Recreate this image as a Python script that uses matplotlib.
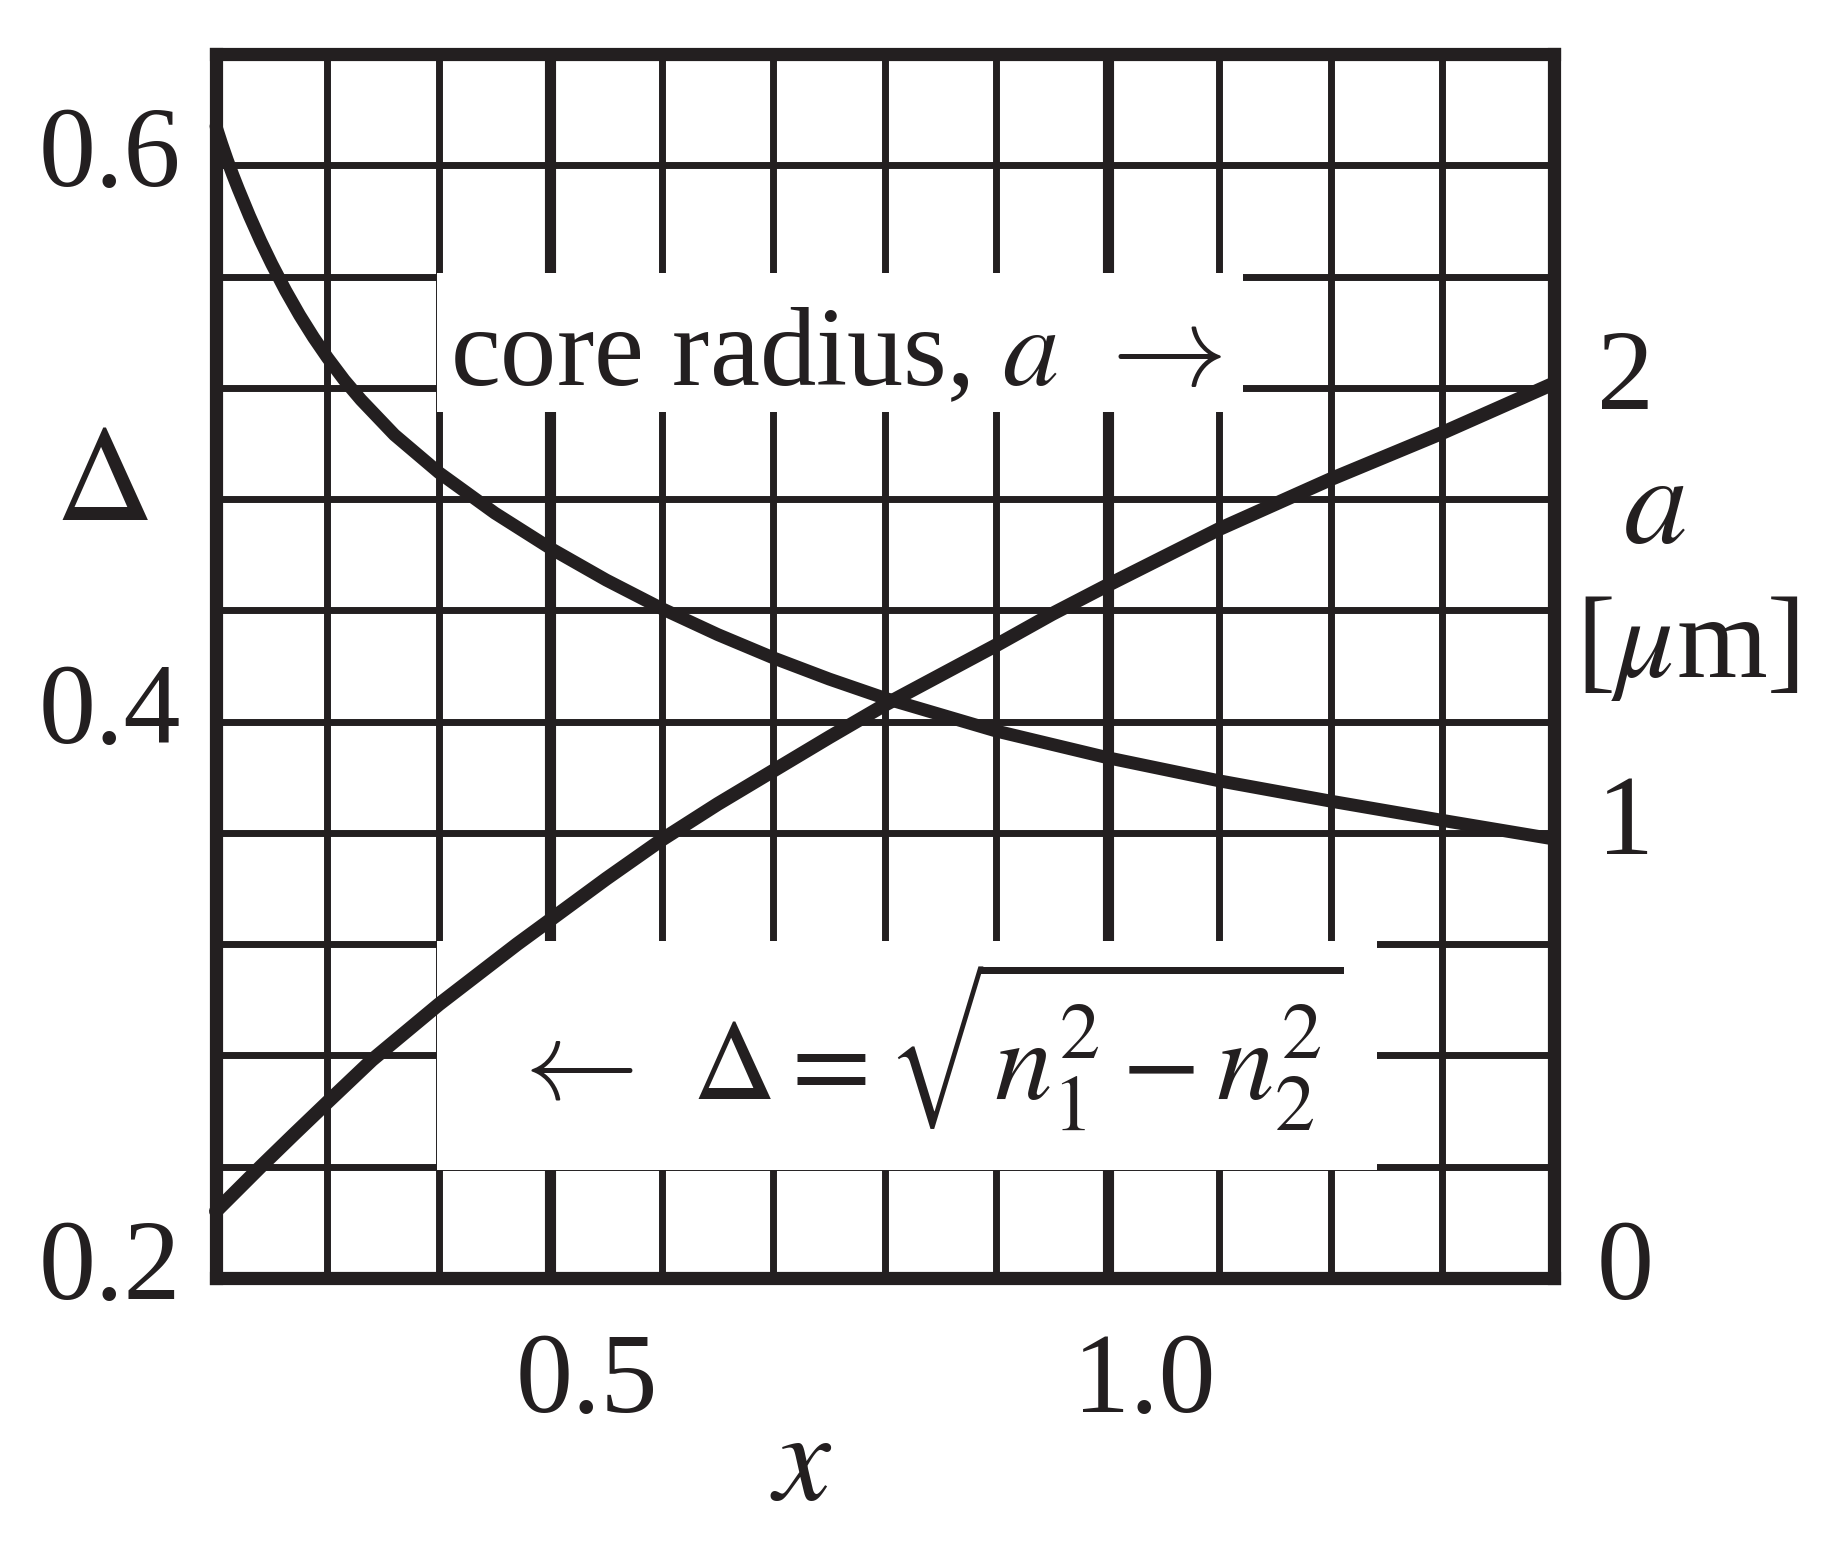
import matplotlib
matplotlib.use("Agg")
import matplotlib.pyplot as plt
from matplotlib.patches import Rectangle
from matplotlib.transforms import ScaledTranslation, blended_transform_factory

plt.rcParams['font.family'] = ['Liberation Serif', 'DejaVu Serif']
plt.rcParams['mathtext.fontset'] = 'stix'

INK = '#231f20'

# Delta curve (left axis)
x_delta = [0.2, 0.205, 0.21, 0.215, 0.22, 0.23, 0.24, 0.25, 0.2625, 0.275, 0.2875, 0.3,
           0.315, 0.33, 0.36, 0.4, 0.45, 0.5, 0.55, 0.6, 0.65, 0.7, 0.75, 0.8,
           0.9, 1.0, 1.1, 1.2, 1.3, 1.4]
delta = [0.614, 0.6078, 0.602, 0.5966, 0.5915, 0.5818, 0.5728, 0.5645, 0.5549, 0.5461, 0.5381, 0.5308,
         0.5228, 0.5157, 0.5031, 0.4895, 0.475, 0.4623, 0.4509, 0.4406, 0.4313, 0.4229, 0.4153, 0.4084,
         0.3966, 0.387, 0.3787, 0.3714, 0.3645, 0.3578]

# core radius a [um] (right axis)
x_a = [0.2, 0.22, 0.24, 0.27, 0.3, 0.34, 0.4, 0.47, 0.5, 0.55, 0.6, 0.65, 0.7, 0.75,
       0.8, 0.85, 0.9, 0.95, 1.0, 1.1, 1.2, 1.3, 1.4]
a_um = [0.15, 0.20, 0.25, 0.323, 0.395, 0.49, 0.615, 0.75, 0.805, 0.897, 0.985, 1.065, 1.14, 1.215,
        1.288, 1.355, 1.422, 1.492, 1.557, 1.683, 1.795, 1.899, 2.01]

x_ticks = [0.5, 1.0]
x_ticklabels = ['0.5', '1.0']
delta_ticks = [0.2, 0.4, 0.6]
delta_ticklabels = ['0.2', '0.4', '0.6']
a_ticks = [0, 1, 2]
a_ticklabels = ['0', '1', '2']

x_grid = [0.3, 0.4, 0.5, 0.6, 0.7, 0.8, 0.9, 1.0, 1.1, 1.2, 1.3]
y_grid = [0.24, 0.28, 0.32, 0.36, 0.40, 0.44, 0.48, 0.52, 0.56, 0.60]

W, H = 1831, 1552
fig = plt.figure(figsize=(W / 100, H / 100), dpi=100)
ax = fig.add_axes([216 / W, 1 - 1278 / H, 1338 / W, 1224 / H])
ax.set_xlim(0.2, 1.4)
ax.set_ylim(0.2, 0.64)
ax2 = ax.twinx()
ax2.set_ylim(0, 2.75)

for a_ in (ax, ax2):
    a_.set_xticks([])
    a_.set_yticks([])
for sp in ax.spines.values():
    sp.set_linewidth(9.5)
    sp.set_color(INK)
    sp.set_capstyle('projecting')
for sp in ax2.spines.values():
    sp.set_visible(False)


def px(dx, dy):
    return ScaledTranslation(dx / 100, dy / 100, fig.dpi_scale_trans)


# grid
for gx in x_grid:
    ax.axvline(gx, color=INK, lw=8.0 if gx in x_ticks else 5.0, zorder=1)
for gy in y_grid:
    ax.axhline(gy, color=INK, lw=5.0, zorder=1)

# white patches behind the annotations
ax.add_patch(Rectangle((0.398, 0.5113), 0.723, 0.050, fc='white', ec='none', zorder=1.5))
ax.add_patch(Rectangle((0.398, 0.239), 0.843, 0.082, fc='white', ec='none', zorder=1.5))

ax.plot(x_delta, delta, color=INK, lw=9.3, solid_capstyle='round', solid_joinstyle='round',
        zorder=3, clip_on=False)
ax2.plot(x_a, a_um, color=INK, lw=10, solid_capstyle='round', solid_joinstyle='round',
         zorder=3, clip_on=False)

# tick labels
tr_left = blended_transform_factory(ax.transAxes, ax.transData) + px(-35, -21)
for v, s in zip(delta_ticks, delta_ticklabels):
    ax.text(0, v, s, ha='right', va='baseline', fontsize=82, color=INK, transform=tr_left)
tr_right = blended_transform_factory(ax2.transAxes, ax2.transData) + px(43, -21)
for v, s in zip(a_ticks, a_ticklabels):
    ax2.text(1, v, s, ha='left', va='baseline', fontsize=82, color=INK, transform=tr_right)
tr_bottom = blended_transform_factory(ax.transData, ax.transAxes) + px(36, -134)
for v, s in zip(x_ticks, x_ticklabels):
    ax.text(v, 0, s, ha='center', va='baseline', fontsize=82, color=INK, transform=tr_bottom)

# axis names
fig.text(102 / W, 1 - 520 / H, r'$\Delta$', ha='center', va='baseline', fontsize=98, color=INK)
fig.text(1654 / W, 1 - 543 / H, r'$a$', ha='center', va='baseline', fontsize=92, color=INK)
fig.text(1688 / W, 1 - 677 / H, r'[$\mu$m]', ha='center', va='baseline', fontsize=84, color=INK)
fig.text(801 / W, 1 - 1500 / H, r'$x$', ha='center', va='baseline', fontsize=92, color=INK)

# annotations
fig.text(450 / W, 1 - 385 / H, r'core radius, $a$', ha='left', va='baseline',
         fontsize=81, color=INK, zorder=5)
fig.text(1222 / W, 1 - 358 / H, r'$\rightarrow$', ha='right', va='center',
         fontsize=83, color=INK, zorder=5, math_fontfamily='cm')
fig.text(505 / W, 1 - 1071 / H, r'$\leftarrow$', ha='left', va='center',
         fontsize=82, color=INK, zorder=5, math_fontfamily='cm')
fig.text(692 / W, 1 - 1100 / H, r'$\Delta = \sqrt{n_1^2 - n_2^2}$', ha='left',
         va='baseline', fontsize=83, color=INK, zorder=5)

fig.savefig('out.png', dpi=100)
